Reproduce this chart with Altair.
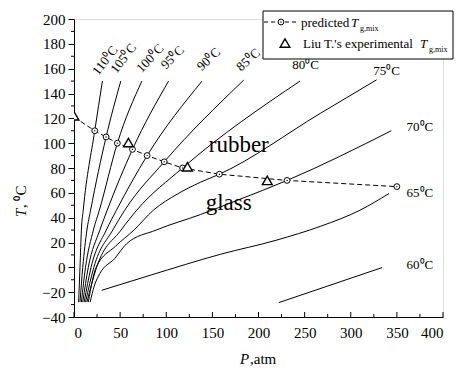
import altair as alt
import pandas as pd

# ---- isotherms: pressure (atm) vs temperature (°C) along each curve ----
iso_names = ["110", "105", "100", "95", "90", "85", "80", "75", "70", "65", "60"]
iso_P = [
    [5, 6.5, 8, 10, 22.5, 30.8],
    [6.5, 9.5, 14, 18, 34.8, 50.7],
    [8, 12.5, 21, 27.5, 47, 73.6],
    [9.5, 15.5, 28, 36, 63.4, 102.5],
    [11, 18.5, 35, 46, 79.3, 138.8],
    [12.5, 21.5, 42, 55, 97.8, 184],
    [14, 24.5, 51, 68, 117.7, 245],
    [15.5, 24, 45, 65, 86, 112, 137, 157.6, 267, 328],
    [17.5, 22, 28, 44, 57, 89, 137, 177, 231, 344],
    [30, 82.6, 158.7, 220, 267, 310, 341.6],
    [222, 334],
]
iso_T = [
    [-28, 0, 30, 46, 110, 150],
    [-28, 0, 30, 46, 105, 150],
    [-28, 0, 30, 46, 100, 150],
    [-28, 0, 30, 46, 95, 150],
    [-28, 0, 30, 46, 90, 150],
    [-28, 0, 30, 46, 85, 150.8],
    [-28, 0, 30, 46, 80, 150],
    [-28, 0, 17, 30, 46, 59, 68.5, 75, 124, 151],
    [-28, -15, -5, 7, 19, 30, 42.5, 54, 70, 110],
    [-18.5, -6.4, 10.5, 22, 33, 46, 59.5],
    [-28.4, -0.2],
]

# predicted glass-transition line (first point is the pure-polymer Tg)
pred_P = [0, 22.5, 34.8, 47, 63.4, 79.3, 97.8, 117.7, 157.6, 231, 350]
pred_T = [121, 110, 105, 100, 95, 90, 85, 80, 75, 70, 65]

# experimental Tg,mix (Liu T.)
exp_P = [0, 59, 123, 209.5]
exp_T = [122, 100.5, 81, 70]

# isotherm label anchors (data units) and rotation
lab_text = ["110⁰C", "105⁰C", "100⁰C", "95⁰C", "90⁰C", "85⁰C", "80⁰C", "75⁰C", "70⁰C", "65⁰C", "60⁰C"]
lab_P = [33.7, 53.6, 82.6, 106.8, 146, 189, 251, 338.8, 375, 375, 375]
lab_T = [166.5, 168.3, 168.3, 169, 167.5, 167, 162.9, 158.3, 113.2, 59.5, 1.7]
lab_angle = [308, 308, 313, 315, 317, 318, 0, 0, 0, 0, 0]

x_ticks = list(range(0, 401, 50))
x_minor = list(range(25, 400, 50))
y_ticks = list(range(-40, 201, 20))
y_minor = list(range(-30, 200, 20))

W, H = 369, 298
FONT = "Liberation Serif"

rows = []
for name, ps, ts in zip(iso_names, iso_P, iso_T):
    for i, (p, t) in enumerate(zip(ps, ts)):
        rows.append({"iso": name, "P": p, "T": t, "i": i})
iso_df = pd.DataFrame(rows)
pred_df = pd.DataFrame({"P": pred_P, "T": pred_T})
pred_pts = pred_df.iloc[1:]
exp_df = pd.DataFrame({"P": exp_P, "T": exp_T})
lab_df = pd.DataFrame({"text": lab_text, "P": lab_P, "T": lab_T, "angle": lab_angle})

X = alt.X("P:Q", scale=alt.Scale(domain=[0, 400], nice=False),
          axis=alt.Axis(values=x_ticks, tickSize=0, labelPadding=8, title=None,
                        grid=False, domainColor="black", labelColor="black",
                        labelFontSize=15, labelFont=FONT))
Y = alt.Y("T:Q", scale=alt.Scale(domain=[-40, 200], nice=False),
          axis=alt.Axis(values=y_ticks, tickSize=6, tickColor="black", labelPadding=3,
                        title=None, grid=False, domainColor="black", labelColor="black",
                        labelFontSize=15, labelFont=FONT))

one = pd.DataFrame({"a": [0]})

isolines = alt.Chart(iso_df).mark_line(color="black", strokeWidth=1, interpolate="monotone").encode(
    x=X, y=Y, detail="iso:N", order="i:Q")

pred_line = alt.Chart(pred_df).mark_line(color="black", strokeWidth=1, strokeDash=[5, 3]).encode(
    x=X, y=Y, order="P:Q")
pred_circ = alt.Chart(pred_pts).mark_point(shape="circle", size=34, filled=False, fill="white",
                                           fillOpacity=1, stroke="black", strokeWidth=1,
                                           opacity=1).encode(x=X, y=Y)
pred_dot = alt.Chart(pred_pts).mark_circle(size=2, color="black", opacity=1).encode(x=X, y=Y)

exp_tri = alt.Chart(exp_df).mark_point(shape="triangle-up", size=95, filled=False, fill="white",
                                       fillOpacity=1, stroke="black", strokeWidth=1.4,
                                       opacity=1, clip=True).encode(x=X, y=Y)

labels = alt.Chart(lab_df).mark_text(font=FONT, fontSize=13, color="black",
                                     align="center", baseline="middle").encode(
    x=X, y=Y, text="text:N", angle=alt.Angle("angle:Q", scale=None))

region = alt.Chart(pd.DataFrame({"text": ["rubber", "glass"], "P": [178.6, 167.7], "T": [93, 46]})).mark_text(
    font=FONT, fontSize=23, color="black", align="center", baseline="alphabetic").encode(
    x=X, y=Y, text="text:N")

# minor and inward ticks
y_minor_ticks = alt.Chart(pd.DataFrame({"T": y_minor})).mark_rule(color="black", strokeWidth=1).encode(
    y=Y, x=alt.value(-3), x2=alt.value(0))
x_major_ticks = alt.Chart(pd.DataFrame({"P": x_ticks})).mark_rule(color="black", strokeWidth=1).encode(
    x=X, y=alt.value(H), y2=alt.value(H - 5))
x_minor_ticks = alt.Chart(pd.DataFrame({"P": x_minor})).mark_rule(color="black", strokeWidth=1).encode(
    x=X, y=alt.value(H), y2=alt.value(H - 3))

# axis titles with italic symbols
def txt(s, x, y, size=15, italic=False, angle=0, align="left", baseline="alphabetic"):
    kw = dict(text=s, font=FONT, fontSize=size, color="black", align=align, baseline=baseline)
    if italic:
        kw["fontStyle"] = "italic"
    if angle:
        kw["angle"] = angle
    return alt.Chart(one).mark_text(**kw).encode(x=alt.value(x), y=alt.value(y))

titles = [
    txt("P", 166, 345, italic=True),
    txt(",atm", 176, 345),
    txt("T", -48, 198, italic=True, angle=270),
    txt(", ⁰C", -48, 189, angle=270),
]

# legend box
box = alt.Chart(one).mark_rect(fill="white", stroke="black", strokeWidth=1).encode(
    x=alt.value(189), x2=alt.value(379), y=alt.value(-8), y2=alt.value(40))
leg_line = alt.Chart(one).mark_rule(color="black", strokeWidth=1, strokeDash=[4, 3]).encode(
    x=alt.value(190), x2=alt.value(224), y=alt.value(3))
leg_circ = alt.Chart(one).mark_point(shape="circle", size=34, filled=False, fill="white", fillOpacity=1,
                                     stroke="black", strokeWidth=1, opacity=1).encode(
    x=alt.value(207), y=alt.value(3))
leg_dot = alt.Chart(one).mark_circle(size=2, color="black", opacity=1).encode(x=alt.value(207), y=alt.value(3))
leg_tri = alt.Chart(one).mark_point(shape="triangle-up", size=95, filled=False, stroke="black",
                                    strokeWidth=1.4, opacity=1).encode(x=alt.value(211), y=alt.value(24))
legend_txt = [
    txt("predicted", 227, 8, size=13),
    txt("T", 277, 8, size=13, italic=True),
    txt("g,mix", 286, 12, size=8),
    txt("Liu T.'s experimental", 229, 29, size=13),
    txt("T", 346, 29, size=13, italic=True),
    txt("g,mix", 355, 33, size=8),
]

chart = alt.layer(
    isolines, pred_line, pred_circ, pred_dot, exp_tri, labels, region,
    y_minor_ticks, x_major_ticks, x_minor_ticks, *titles,
    box, leg_line, leg_circ, leg_dot, leg_tri, *legend_txt,
).properties(
    width=W, height=H, autosize="none",
    padding={"left": 74, "top": 19, "right": 15, "bottom": 55},
).configure_view(stroke=None).configure(font=FONT, background="white")

chart.save("out.html", embed_options={"renderer": "svg", "actions": False})
